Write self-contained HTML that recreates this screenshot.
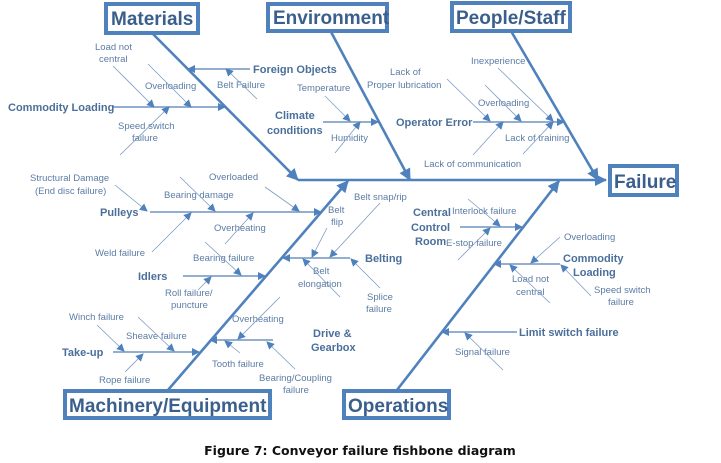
<!DOCTYPE html>
<html><head><meta charset="utf-8"><style>
html,body{margin:0;padding:0;background:#fff;}
svg{display:block;}
.box{fill:#fff;stroke:#4f81bd;stroke-width:4;}
.cat{font-family:"Liberation Sans",sans-serif;font-size:19px;font-weight:bold;fill:#3a5f8c;}
.s{font-family:"Liberation Sans",sans-serif;font-size:9.5px;fill:#5b7ca5;}
.b{font-family:"Liberation Sans",sans-serif;font-size:11px;font-weight:bold;fill:#4a6f9a;}
.m{stroke:#4f81bd;stroke-width:2.6;fill:none;}
.l{stroke:#6f93c0;stroke-width:1.4;fill:none;}
.t{stroke:#7d9cc4;stroke-width:0.8;fill:none;}
</style></head><body>
<svg width="721" height="463" viewBox="0 0 721 463" xmlns="http://www.w3.org/2000/svg">
<defs>
<marker id="a" markerWidth="8" markerHeight="8" refX="7" refY="4" orient="auto" markerUnits="userSpaceOnUse"><path d="M0,0 L8,4 L0,8 z" fill="#4f81bd"/></marker>
<marker id="am" markerWidth="12" markerHeight="12" refX="11" refY="6" orient="auto" markerUnits="userSpaceOnUse"><path d="M0,0 L12,6 L0,12 z" fill="#4f81bd"/></marker>
</defs>
<!-- main bones -->
<line class="m" x1="298" y1="180" x2="606" y2="180" marker-end="url(#am)"/>
<line class="m" x1="152" y1="33" x2="298" y2="180" marker-end="url(#am)"/>
<line class="m" x1="330" y1="30" x2="410" y2="180" marker-end="url(#am)"/>
<line class="m" x1="511" y1="31" x2="598" y2="180" marker-end="url(#am)"/>
<line class="m" x1="168" y1="390" x2="348" y2="181" marker-end="url(#am)"/>
<line class="m" x1="397" y1="390" x2="559" y2="181" marker-end="url(#am)"/>
<!-- boxes -->
<rect class="box" x="106" y="4" width="92" height="29"/><text class="cat" x="111" y="25">Materials</text>
<rect class="box" x="268" y="4" width="119" height="27"/><text class="cat" x="273" y="24">Environment</text>
<rect class="box" x="452" y="3" width="118" height="28"/><text class="cat" x="456" y="24">People/Staff</text>
<rect class="box" x="610" y="166" width="67" height="29"/><text class="cat" x="614" y="188">Failure</text>
<rect class="box" x="65" y="391" width="205" height="27"/><text class="cat" x="69" y="412">Machinery/Equipment</text>
<rect class="box" x="344" y="391" width="105" height="27"/><text class="cat" x="348" y="412">Operations</text>
<!-- Materials -->
<line class="l" x1="113" y1="107" x2="225" y2="107" marker-end="url(#a)"/>
<text class="b" x="8" y="111">Commodity Loading</text>
<line class="l" x1="250" y1="69" x2="188" y2="69" marker-end="url(#a)"/>
<text class="b" x="253" y="73">Foreign Objects</text>
<line class="t" x1="257" y1="99" x2="226" y2="69" marker-end="url(#a)"/>
<text class="s" x="217" y="88">Belt Failure</text>
<text class="s" x="95" y="50">Load not</text><text class="s" x="99" y="62">central</text>
<line class="t" x1="113" y1="66" x2="154" y2="107" marker-end="url(#a)"/>
<line class="t" x1="148" y1="64" x2="191" y2="107" marker-end="url(#a)"/>
<text class="s" x="145" y="89">Overloading</text>
<line class="t" x1="120" y1="155" x2="169" y2="107" marker-end="url(#a)"/>
<text class="s" x="118" y="129">Speed switch</text><text class="s" x="132" y="141">failure</text>
<!-- Environment -->
<line class="l" x1="323" y1="122" x2="378" y2="122" marker-end="url(#a)"/>
<text class="b" x="275" y="119">Climate</text><text class="b" x="267" y="134">conditions</text>
<text class="s" x="297" y="91">Temperature</text>
<line class="t" x1="325" y1="96" x2="350" y2="121" marker-end="url(#a)"/>
<text class="s" x="331" y="141">Humidity</text>
<line class="t" x1="335" y1="153" x2="360" y2="122" marker-end="url(#a)"/>
<!-- People -->
<line class="l" x1="473" y1="122" x2="564" y2="122" marker-end="url(#a)"/>
<text class="b" x="396" y="126">Operator Error</text>
<text class="s" x="390" y="75">Lack of</text><text class="s" x="367" y="88">Proper lubrication</text>
<line class="t" x1="447" y1="79" x2="490" y2="121" marker-end="url(#a)"/>
<text class="s" x="471" y="64">Inexperience</text>
<line class="t" x1="498" y1="68" x2="553" y2="121" marker-end="url(#a)"/>
<text class="s" x="478" y="106">Overloading</text>
<line class="t" x1="485" y1="85" x2="521" y2="121" marker-end="url(#a)"/>
<text class="s" x="505" y="141">Lack of training</text>
<line class="t" x1="523" y1="154" x2="553" y2="122" marker-end="url(#a)"/>
<text class="s" x="424" y="167">Lack of communication</text>
<line class="t" x1="473" y1="155" x2="503" y2="122" marker-end="url(#a)"/>
<!-- Machinery -->
<line class="l" x1="150" y1="212" x2="321" y2="212" marker-end="url(#a)"/>
<text class="b" x="100" y="216">Pulleys</text>
<text class="s" x="30" y="181">Structural Damage</text><text class="s" x="35" y="194">(End disc failure)</text>
<line class="t" x1="115" y1="185" x2="147" y2="211" marker-end="url(#a)"/>
<text class="s" x="209" y="180">Overloaded</text>
<line class="t" x1="265" y1="187" x2="299" y2="211" marker-end="url(#a)"/>
<text class="s" x="164" y="198">Bearing damage</text>
<line class="t" x1="180" y1="177" x2="215" y2="211" marker-end="url(#a)"/>
<text class="s" x="95" y="256">Weld failure</text>
<line class="t" x1="152" y1="252" x2="191" y2="213" marker-end="url(#a)"/>
<text class="s" x="214" y="231">Overheating</text>
<line class="t" x1="225" y1="244" x2="253" y2="213" marker-end="url(#a)"/>
<line class="l" x1="183" y1="276" x2="265" y2="276" marker-end="url(#a)"/>
<text class="b" x="138" y="280">Idlers</text>
<text class="s" x="193" y="261">Bearing failure</text>
<line class="t" x1="205" y1="242" x2="241" y2="275" marker-end="url(#a)"/>
<text class="s" x="165" y="296">Roll failure/</text><text class="s" x="171" y="308">puncture</text>
<line class="t" x1="198" y1="290" x2="211" y2="277" marker-end="url(#a)"/>
<line class="l" x1="113" y1="352" x2="199" y2="352" marker-end="url(#a)"/>
<text class="b" x="62" y="356">Take-up</text>
<text class="s" x="69" y="320">Winch failure</text>
<line class="t" x1="97" y1="325" x2="124" y2="351" marker-end="url(#a)"/>
<text class="s" x="126" y="339">Sheave failure</text>
<line class="t" x1="138" y1="317" x2="174" y2="351" marker-end="url(#a)"/>
<text class="s" x="99" y="383">Rope failure</text>
<line class="t" x1="125" y1="372" x2="143" y2="354" marker-end="url(#a)"/>
<line class="l" x1="273" y1="340" x2="210" y2="340" marker-end="url(#a)"/>
<text class="b" x="313" y="337">Drive &amp;</text><text class="b" x="311" y="351">Gearbox</text>
<text class="s" x="232" y="322">Overheating</text>
<line class="t" x1="280" y1="297" x2="238" y2="339" marker-end="url(#a)"/>
<text class="s" x="212" y="367">Tooth failure</text>
<line class="t" x1="240" y1="353" x2="225" y2="341" marker-end="url(#a)"/>
<text class="s" x="259" y="381">Bearing/Coupling</text><text class="s" x="283" y="393">failure</text>
<line class="t" x1="295" y1="369" x2="267" y2="342" marker-end="url(#a)"/>
<!-- Belting -->
<line class="l" x1="350" y1="258" x2="283" y2="258" marker-end="url(#a)"/>
<text class="b" x="365" y="262">Belting</text>
<text class="s" x="328" y="213">Belt</text><text class="s" x="331" y="225">flip</text>
<line class="t" x1="327" y1="228" x2="312" y2="257" marker-end="url(#a)"/>
<text class="s" x="354" y="200">Belt snap/rip</text>
<line class="t" x1="380" y1="203" x2="330" y2="257" marker-end="url(#a)"/>
<text class="s" x="313" y="274">Belt</text><text class="s" x="298" y="287">elongation</text>
<line class="t" x1="340" y1="297" x2="303" y2="259" marker-end="url(#a)"/>
<text class="s" x="367" y="300">Splice</text><text class="s" x="366" y="312">failure</text>
<line class="t" x1="380" y1="288" x2="351" y2="259" marker-end="url(#a)"/>
<!-- Operations -->
<line class="l" x1="460" y1="227" x2="522" y2="227" marker-end="url(#a)"/>
<text class="b" x="413" y="216">Central</text><text class="b" x="411" y="231">Control</text><text class="b" x="415" y="245">Room</text>
<text class="s" x="452" y="214">Interlock failure</text>
<line class="t" x1="468" y1="199" x2="500" y2="226" marker-end="url(#a)"/>
<text class="s" x="446" y="246">E-stop failure</text>
<line class="t" x1="458" y1="260" x2="490" y2="228" marker-end="url(#a)"/>
<line class="l" x1="560" y1="264" x2="494" y2="264" marker-end="url(#a)"/>
<text class="b" x="563" y="262">Commodity</text><text class="b" x="573" y="276">Loading</text>
<text class="s" x="564" y="240">Overloading</text>
<line class="t" x1="560" y1="237" x2="531" y2="263" marker-end="url(#a)"/>
<text class="s" x="512" y="282">Load not</text><text class="s" x="516" y="295">central</text>
<line class="t" x1="550" y1="303" x2="510" y2="265" marker-end="url(#a)"/>
<text class="s" x="594" y="293">Speed switch</text><text class="s" x="608" y="305">failure</text>
<line class="t" x1="591" y1="296" x2="561" y2="265" marker-end="url(#a)"/>
<line class="l" x1="517" y1="332" x2="442" y2="332" marker-end="url(#a)"/>
<text class="b" x="519" y="336">Limit switch failure</text>
<text class="s" x="455" y="355">Signal failure</text>
<line class="t" x1="503" y1="370" x2="465" y2="333" marker-end="url(#a)"/>
<!-- caption -->
<text x="360" y="455" text-anchor="middle" font-family="DejaVu Sans, Liberation Sans, sans-serif" font-size="12.5" font-weight="bold" fill="#111">Figure 7: Conveyor failure fishbone diagram</text>
</svg>
</body></html>
